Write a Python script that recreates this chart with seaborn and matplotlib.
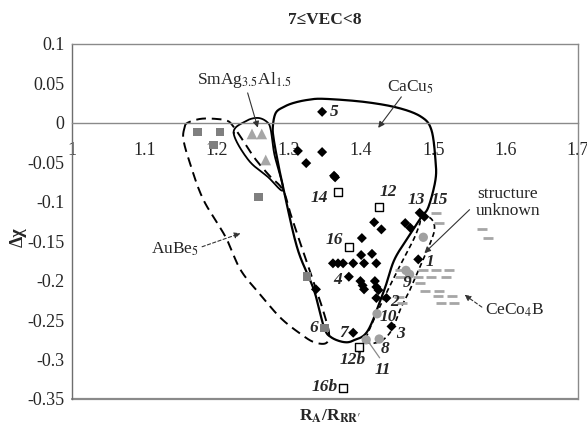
import numpy as np
import pandas as pd
import matplotlib
matplotlib.use("Agg")
import matplotlib.pyplot as plt
import seaborn as sns

# ---------------- data ----------------
title_text = "7\u2264VEC<8"
x_ticks = [1.0, 1.1, 1.2, 1.3, 1.4, 1.5, 1.6, 1.7]
x_tick_labels = ["1", "1.1", "1.2", "1.3", "1.4", "1.5", "1.6", "1.7"]
y_ticks = [0.1, 0.05, 0.0, -0.05, -0.1, -0.15, -0.2, -0.25, -0.3, -0.35]
y_tick_labels = ["0.1", "0.05", "0", "-0.05", "-0.1", "-0.15", "-0.2", "-0.25", "-0.3", "-0.35"]

# CaCu5-type compounds (black diamonds)
cacu5_x = [1.346, 1.3125, 1.346, 1.324, 1.3625, 1.364, 1.418, 1.428, 1.461, 1.468,
           1.481, 1.4875, 1.401, 1.400, 1.415, 1.361, 1.368, 1.375, 1.389, 1.404,
           1.421, 1.383, 1.399, 1.402, 1.404, 1.419, 1.424, 1.421, 1.421, 1.435,
           1.479, 1.3375, 1.442, 1.389]
cacu5_y = [0.014, -0.0355, -0.037, -0.051, -0.067, -0.069, -0.126, -0.135, -0.127, -0.133,
           -0.114, -0.119, -0.146, -0.1675, -0.166, -0.178, -0.178, -0.178, -0.178, -0.178,
           -0.178, -0.195, -0.2005, -0.206, -0.211, -0.2005, -0.212, -0.208, -0.222, -0.222,
           -0.173, -0.211, -0.258, -0.266]
# AuBe5-type (gray squares)
aube5_x = [1.174, 1.205, 1.196, 1.258, 1.325, 1.349]
aube5_y = [-0.0115, -0.0115, -0.028, -0.094, -0.195, -0.260]
# SmAg3.5Al1.5-type (gray triangles)
smag_x = [1.249, 1.2625, 1.268]
smag_y = [-0.014, -0.014, -0.047]
# open squares (12, 14, 16, 12b, 16b)
open_x = [1.368, 1.425, 1.383, 1.397, 1.375]
open_y = [-0.0875, -0.1065, -0.157, -0.284, -0.336]
# structure unknown (gray circles)
unk_x = [1.486, 1.462, 1.467, 1.422, 1.407, 1.425]
unk_y = [-0.145, -0.187, -0.192, -0.242, -0.275, -0.274]
# CeCo4B-type and other dashes
ceco_x = [1.454, 1.485, 1.503, 1.522, 1.454, 1.478, 1.496, 1.517, 1.481, 1.488,
          1.508, 1.453, 1.507, 1.525, 1.456, 1.511, 1.529, 1.504, 1.508, 1.567, 1.576]
ceco_y = [-0.187, -0.187, -0.187, -0.187, -0.195, -0.195, -0.195, -0.195, -0.203, -0.213,
          -0.213, -0.221, -0.220, -0.220, -0.228, -0.228, -0.228, -0.114, -0.127, -0.135, -0.146]

# point labels
num_labels = ["5", "14", "12", "13", "15", "16", "4", "1", "9", "2", "10", "3",
              "6", "7", "8", "11", "12b", "16b"]
num_x = [1.362, 1.342, 1.4375, 1.476, 1.508, 1.3625, 1.368, 1.495, 1.464, 1.446,
         1.437, 1.454, 1.335, 1.376, 1.433, 1.430, 1.389, 1.349]
num_y = [0.014, -0.095, -0.0875, -0.098, -0.098, -0.148, -0.199, -0.176, -0.203, -0.227,
         -0.246, -0.267, -0.260, -0.266, -0.286, -0.313, -0.300, -0.335]

# region outlines (hand-drawn guide loops)
cacu5_loop_x = [1.3486, 1.3347, 1.3125, 1.2958, 1.2861, 1.2792, 1.2778, 1.2819, 1.2931,
                1.3069, 1.3264, 1.3486, 1.4042, 1.4514, 1.4833, 1.4972, 1.5028, 1.5028,
                1.4931, 1.4833, 1.4653, 1.4458, 1.4319, 1.4097, 1.3903, 1.3764, 1.3583]
cacu5_loop_y = [-0.2589, -0.2119, -0.1612, -0.0977, -0.0558, -0.0216, -0.0051, 0.0127, 0.0203,
                0.0254, 0.0292, 0.0305, 0.0266, 0.0190, 0.0076, -0.0089, -0.0470, -0.0723,
                -0.1066, -0.1193, -0.1447, -0.1738, -0.2119, -0.2627, -0.2754, -0.2779, -0.2716]
aube5_loop_x = [1.1556, 1.1597, 1.1778, 1.1986, 1.2153, 1.2236, 1.2333, 1.2514, 1.2722,
                1.2917, 1.3028, 1.3167, 1.3333, 1.3472, 1.3556, 1.3514, 1.3347, 1.3167,
                1.2889, 1.2611, 1.2333, 1.2125, 1.1819, 1.1639, 1.1542]
aube5_loop_y = [-0.0063, 0.0, 0.0051, 0.0051, 0.0025, -0.0051, -0.0178, -0.0431, -0.066,
                -0.085, -0.1167, -0.1548, -0.1992, -0.2373, -0.2665, -0.2792, -0.2779, -0.2678,
                -0.2475, -0.2183, -0.1865, -0.1447, -0.0977, -0.0533, -0.0216]
smag_loop_x = [1.2236, 1.2400, 1.2570, 1.2700, 1.2750, 1.2800, 1.2920, 1.2710, 1.2440]
smag_loop_y = [-0.0127, 0.0020, 0.0063, 0.0010, -0.0090, -0.0400, -0.0850, -0.0685, -0.0470]
unk_loop_x = [1.4833, 1.4931, 1.5000, 1.5014, 1.4972, 1.4903, 1.4806, 1.4694, 1.4556,
              1.4444, 1.4347, 1.4236, 1.4111, 1.4069, 1.4236, 1.4417, 1.4556, 1.4722, 1.4806]
unk_loop_y = [-0.1206, -0.1193, -0.1256, -0.1358, -0.1485, -0.1637, -0.1840, -0.2081, -0.2335,
              -0.2589, -0.2716, -0.2779, -0.2792, -0.2728, -0.2373, -0.2030, -0.1777, -0.1485, -0.1294]


def smooth_closed(xs, ys, n=24):
    P = np.column_stack([xs, ys])
    N = len(P)
    t = np.linspace(0, 1, n, endpoint=False)[:, None]
    segs = []
    for i in range(N):
        p0, p1, p2, p3 = P[i - 1], P[i], P[(i + 1) % N], P[(i + 2) % N]
        segs.append(0.5 * (2 * p1 + (-p0 + p2) * t + (2 * p0 - 5 * p1 + 4 * p2 - p3) * t ** 2
                           + (-p0 + 3 * p1 - 3 * p2 + p3) * t ** 3))
    out = np.vstack(segs + [segs[0][:1]])
    return out[:, 0], out[:, 1]


# ---------------- style ----------------
sns.set_style("white")
plt.rcParams["font.family"] = ["Liberation Serif", "DejaVu Serif"]
plt.rcParams["mathtext.fontset"] = "stix"

fig = plt.figure(figsize=(5.87, 4.26), dpi=100)
ax = fig.add_axes([72 / 587, 1 - 399 / 426, (578 - 72) / 587, (399 - 44) / 426])

gray_box = "#8a8a8a"
fs_ann = 12.5
fs_num = 12.5

# outlines
lx, ly = smooth_closed(aube5_loop_x, aube5_loop_y)
ax.plot(lx, ly, color="black", lw=1.4, ls=(0, (5, 3)), zorder=2)
lx, ly = smooth_closed(smag_loop_x, smag_loop_y)
ax.plot(lx, ly, color="black", lw=1.3, zorder=2)
lx, ly = smooth_closed(cacu5_loop_x, cacu5_loop_y)
ax.plot(lx, ly, color="black", lw=1.6, zorder=2)
lx, ly = smooth_closed(unk_loop_x, unk_loop_y)
ax.plot(lx, ly, color="black", lw=1.2, ls=(0, (3, 2)), zorder=2)

# points
sns.scatterplot(x=ceco_x, y=ceco_y, marker="_", s=45, color="#a6a6a6", linewidth=2.0, ax=ax, zorder=3)
sns.scatterplot(x=aube5_x, y=aube5_y, marker="s", s=38, color="#7f7f7f", edgecolor="none", ax=ax, zorder=4)
sns.scatterplot(x=smag_x, y=smag_y, marker="^", s=60, color="#a6a6a6", edgecolor="none", ax=ax, zorder=4)
sns.scatterplot(x=unk_x, y=unk_y, marker="o", s=45, color="#a0a0a0", edgecolor="none", ax=ax, zorder=4)
sns.scatterplot(x=cacu5_x, y=cacu5_y, marker="D", s=26, color="black", edgecolor="none", ax=ax, zorder=5)
sns.scatterplot(x=open_x, y=open_y, marker="s", s=40, color="white", edgecolor="black", linewidth=1.0, ax=ax, zorder=5)

# point number labels
for lab, x, y in zip(num_labels, num_x, num_y):
    ax.text(x, y, lab, ha="center", va="center", fontsize=fs_num, fontweight="bold",
            fontstyle="italic", zorder=6)

# region annotations
arrow_kw = dict(arrowstyle="-|>", color="#333333", lw=0.8, mutation_scale=9, shrinkA=0, shrinkB=0)
ax.text(1.239, 0.0546, "SmAg$_{3.5}$Al$_{1.5}$", ha="center", va="center", fontsize=fs_ann)
ax.annotate("", xy=(1.257, -0.006), xytext=(1.243, 0.038), arrowprops=arrow_kw)
ax.text(1.4688, 0.045, "CaCu$_5$", ha="center", va="center", fontsize=fs_ann)
ax.annotate("", xy=(1.4236, -0.0063), xytext=(1.4556, 0.033), arrowprops=arrow_kw)
ax.text(1.143, -0.160, "AuBe$_5$", ha="center", va="center", fontsize=fs_ann)
ax.annotate("", xy=(1.233, -0.140), xytext=(1.180, -0.157),
            arrowprops=dict(arrow_kw, ls=(0, (3, 2))))
ax.text(1.603, -0.101, "structure\nunknown", ha="center", va="center", fontsize=fs_ann,
        linespacing=1.15)
ax.annotate("", xy=(1.4875, -0.165), xytext=(1.550, -0.110), arrowprops=arrow_kw)
ax.text(1.6125, -0.237, "CeCo$_4$B", ha="center", va="center", fontsize=fs_ann)
ax.annotate("", xy=(1.543, -0.218), xytext=(1.567, -0.2335),
            arrowprops=dict(arrow_kw, ls=(0, (3, 2))))
ax.annotate("", xy=(1.4056, -0.2716), xytext=(1.4278, -0.3007),
            arrowprops=dict(arrowstyle="-", color="#8a8a8a", lw=0.9))

# axes
ax.set_xlim(1.0, 1.7)
ax.set_ylim(-0.35, 0.1)
ax.set_xticks(x_ticks)
ax.set_xticklabels(x_tick_labels)
ax.set_yticks(y_ticks)
ax.set_yticklabels(y_tick_labels)
ax.spines["bottom"].set_position(("data", 0))
for s in ["bottom", "top", "right"]:
    ax.spines[s].set_color(gray_box)
    ax.spines[s].set_linewidth(1.0)
ax.spines["left"].set_color("#6e6e6e")
ax.spines["left"].set_linewidth(1.0)
ax.plot([0, 1], [0, 0], transform=ax.transAxes, color=gray_box, lw=1.6, clip_on=False, zorder=1)
ax.tick_params(axis="x", direction="out", length=4, width=1, color=gray_box, pad=10, labelsize=13)
ax.tick_params(axis="y", direction="out", length=4, width=1, color="#6e6e6e", pad=1.5, labelsize=13)
ax.set_xlabel("")
ax.set_ylabel("")

fig.text(325 / 587, 1 - 20 / 426, title_text, ha="center", va="center", fontsize=12.5, fontweight="bold")
fig.text(18 / 587, 1 - 237 / 426, "\u0394\u03c7", ha="center", va="center", rotation=90,
         fontsize=13, fontweight="bold")
fig.text(330 / 587, 1 - 416 / 426, r"R$_{\mathbf{A}}$/R$_{\mathbf{RR}\prime}$", ha="center", va="center",
         fontsize=12.5, fontweight="bold")

fig.savefig("out.png", dpi=100)
